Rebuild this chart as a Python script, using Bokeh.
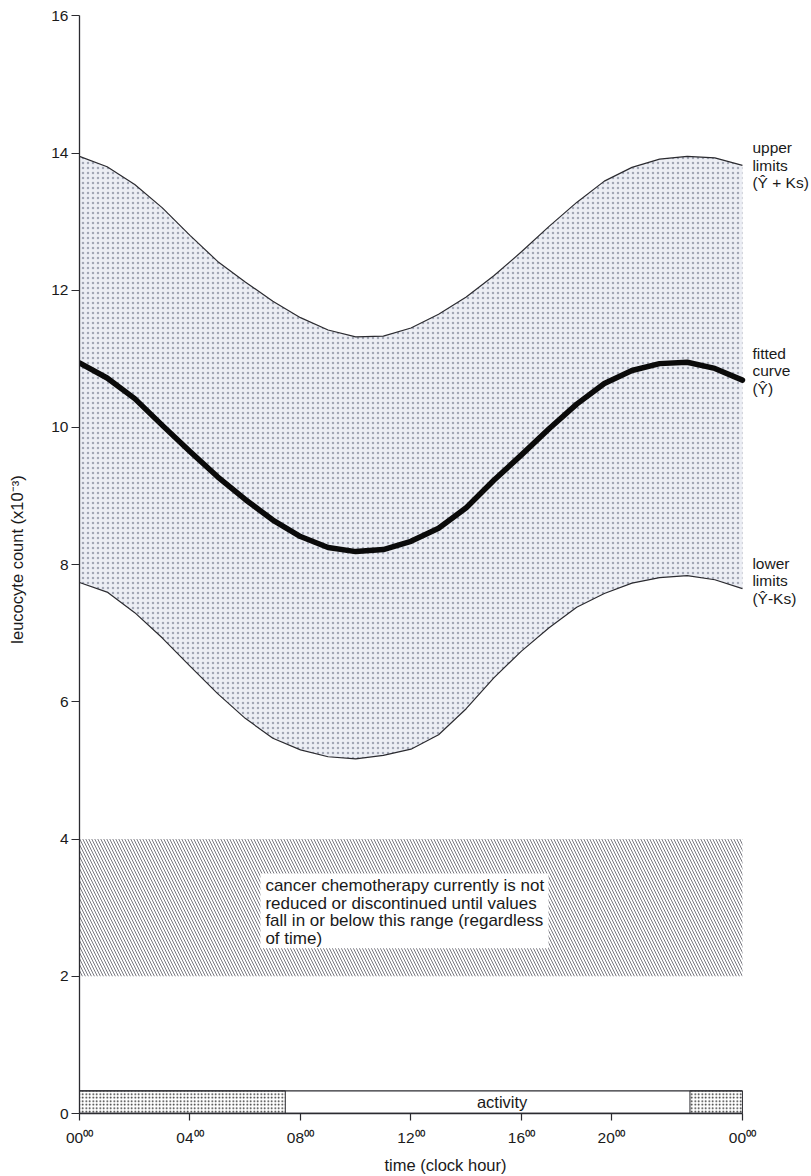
from bokeh.plotting import figure
from bokeh.models import Range1d, FixedTicker, Title
from bokeh.core.properties import value
from bokeh.embed import file_html
from bokeh.resources import INLINE

# Clock hours of the day and leucocyte counts (x10^-3) read hour by hour
hours = list(range(25))
upper_limit = [13.95, 13.80, 13.54, 13.20, 12.80, 12.42, 12.12, 11.84, 11.60, 11.42,
               11.32, 11.33, 11.45, 11.65, 11.90, 12.21, 12.56, 12.93, 13.28, 13.59,
               13.79, 13.91, 13.95, 13.93, 13.82]
fitted = [10.94, 10.72, 10.42, 10.03, 9.65, 9.28, 8.95, 8.65, 8.41, 8.25,
          8.19, 8.22, 8.34, 8.53, 8.83, 9.23, 9.60, 9.98, 10.34, 10.64,
          10.83, 10.93, 10.95, 10.86, 10.69]
lower_limit = [7.74, 7.60, 7.30, 6.93, 6.52, 6.12, 5.76, 5.47, 5.30, 5.20,
               5.17, 5.22, 5.31, 5.52, 5.90, 6.35, 6.74, 7.08, 7.38, 7.58,
               7.73, 7.81, 7.84, 7.78, 7.65]

# Range in which chemotherapy is reduced or stopped
chemo_low, chemo_high = 2, 4

# Rest spans (start, end, in hours) and the activity span between them
rest_spans = [(0, 7.45), (22.1, 24)]
activity_span = (7.45, 22.1)

y_ticks = [0, 2, 4, 6, 8, 10, 12, 14, 16]
x_ticks = [0, 4, 8, 12, 16, 19.25, 24]
x_tick_labels = ["00⁰⁰", "04⁰⁰", "08⁰⁰", "12⁰⁰", "16⁰⁰", "20⁰⁰", "00⁰⁰"]

chemo_note = ["cancer chemotherapy currently is not",
              "reduced or discontinued until values",
              "fall in or below this range (regardless",
              "of time)"]

FONT = "Liberation Sans"
INK = "#2b2b30"
TEXT = "#1a1a1a"

p = figure(frame_width=732, frame_height=1108,
           x_range=Range1d(0, 26.5), y_range=Range1d(0, 16.15),
           output_backend="svg", toolbar_location=None,
           min_border_left=79, min_border_right=0,
           min_border_top=5, min_border_bottom=63)
p.outline_line_color = None
p.grid.visible = False
p.background_fill_color = "white"
p.border_fill_color = "white"

# Stippled band between lower and upper limits
p.varea(x=hours, y1=lower_limit, y2=upper_limit,
        fill_color="#eceef4", hatch_pattern=".", hatch_color="#6f7789",
        hatch_scale=5, hatch_weight=1, hatch_alpha=0.6)
p.line(hours, upper_limit, line_color=INK, line_width=1.2, line_join="round")
p.line(hours, lower_limit, line_color=INK, line_width=1.2, line_join="round")
p.line(hours, fitted, line_color="#0a0a0a", line_width=5.5,
       line_cap="round", line_join="round")

# Hatched chemotherapy range with its note
p.quad(left=0, right=24, bottom=chemo_low, top=chemo_high,
       fill_color="white", line_color=None,
       hatch_pattern="\\", hatch_color="#55555f", hatch_scale=6, hatch_weight=0.8)
p.quad(left=6.55, right=16.98, bottom=2.41, top=3.50,
       fill_color="white", line_color=None)
note_y = [3.33 - 0.262 * i for i in range(len(chemo_note))]
p.text(x=[6.73] * len(chemo_note), y=note_y, text=chemo_note,
       text_font=value(FONT), text_font_size="17px", text_color=TEXT,
       text_align="left", text_baseline="middle")

# Activity / rest bar along the time axis
bar_top = 0.33
p.quad(left=[activity_span[0]], right=[activity_span[1]], bottom=0, top=bar_top,
       fill_color="white", line_color=None)
p.quad(left=[s for s, _ in rest_spans], right=[e for _, e in rest_spans],
       bottom=0, top=bar_top, fill_color="white", line_color=INK, line_width=1,
       hatch_pattern=".", hatch_color="#1e1e1e", hatch_scale=3.5, hatch_weight=1.5)
p.segment(x0=[0, 0], x1=[24, 24], y0=[0, bar_top], y1=[0, bar_top],
          line_color=INK, line_width=1.3)
p.text(x=[15.3], y=[bar_top / 2], text=["activity"],
       text_font=value(FONT), text_font_size="16.5px", text_color=TEXT,
       text_align="center", text_baseline="middle")

# Curve labels on the right
side_labels = [
    (["upper", "limits", "(Ŷ + Ks)"], 14.08),
    (["fitted", "curve", "(Ŷ)"], 11.08),
    (["lower", "limits", "(Ŷ-Ks)"], 8.02),
]
for lines, top in side_labels:
    p.text(x=[24.36] * len(lines), y=[top - 0.255 * i for i in range(len(lines))],
           text=lines, text_font=value(FONT), text_font_size="15.5px",
           text_color=TEXT, text_align="left", text_baseline="middle")

# Axes
p.yaxis.ticker = FixedTicker(ticks=y_ticks)
p.yaxis.bounds = (0, 16)
p.yaxis.major_tick_out = 8
p.yaxis.major_tick_in = 0
p.yaxis.minor_tick_line_color = None
p.yaxis.axis_line_color = INK
p.yaxis.axis_line_width = 1.3
p.yaxis.major_tick_line_color = INK
p.yaxis.major_tick_line_width = 1.2
p.yaxis.major_label_text_font = FONT
p.yaxis.major_label_text_font_size = "15.5px"
p.yaxis.major_label_text_color = TEXT
p.yaxis.major_label_standoff = 3
p.yaxis.axis_label = "leucocyte count (x10⁻³)"
p.yaxis.axis_label_text_font = FONT
p.yaxis.axis_label_text_font_size = "16.5px"
p.yaxis.axis_label_text_font_style = "normal"
p.yaxis.axis_label_text_color = TEXT
p.yaxis.axis_label_standoff = 22

p.xaxis.ticker = FixedTicker(ticks=x_ticks)
p.xaxis.major_label_overrides = dict(zip(x_ticks, x_tick_labels))
p.xaxis.bounds = (0, 24)
p.xaxis.major_tick_out = 7
p.xaxis.major_tick_in = 0
p.xaxis.minor_tick_line_color = None
p.xaxis.axis_line_color = INK
p.xaxis.axis_line_width = 1.3
p.xaxis.major_tick_line_color = INK
p.xaxis.major_tick_line_width = 1.2
p.xaxis.major_label_text_font = FONT
p.xaxis.major_label_text_font_size = "15.5px"
p.xaxis.major_label_text_color = TEXT
p.xaxis.major_label_standoff = 8

# Time-axis title, shifted to sit under the 24-hour span
p.add_layout(Title(text="time (clock hour)", align="center", offset=-14,
                   text_font=FONT, text_font_size="16.5px",
                   text_font_style="normal", text_color=TEXT), "below")

open("out.html", "w").write(file_html(p, INLINE))
